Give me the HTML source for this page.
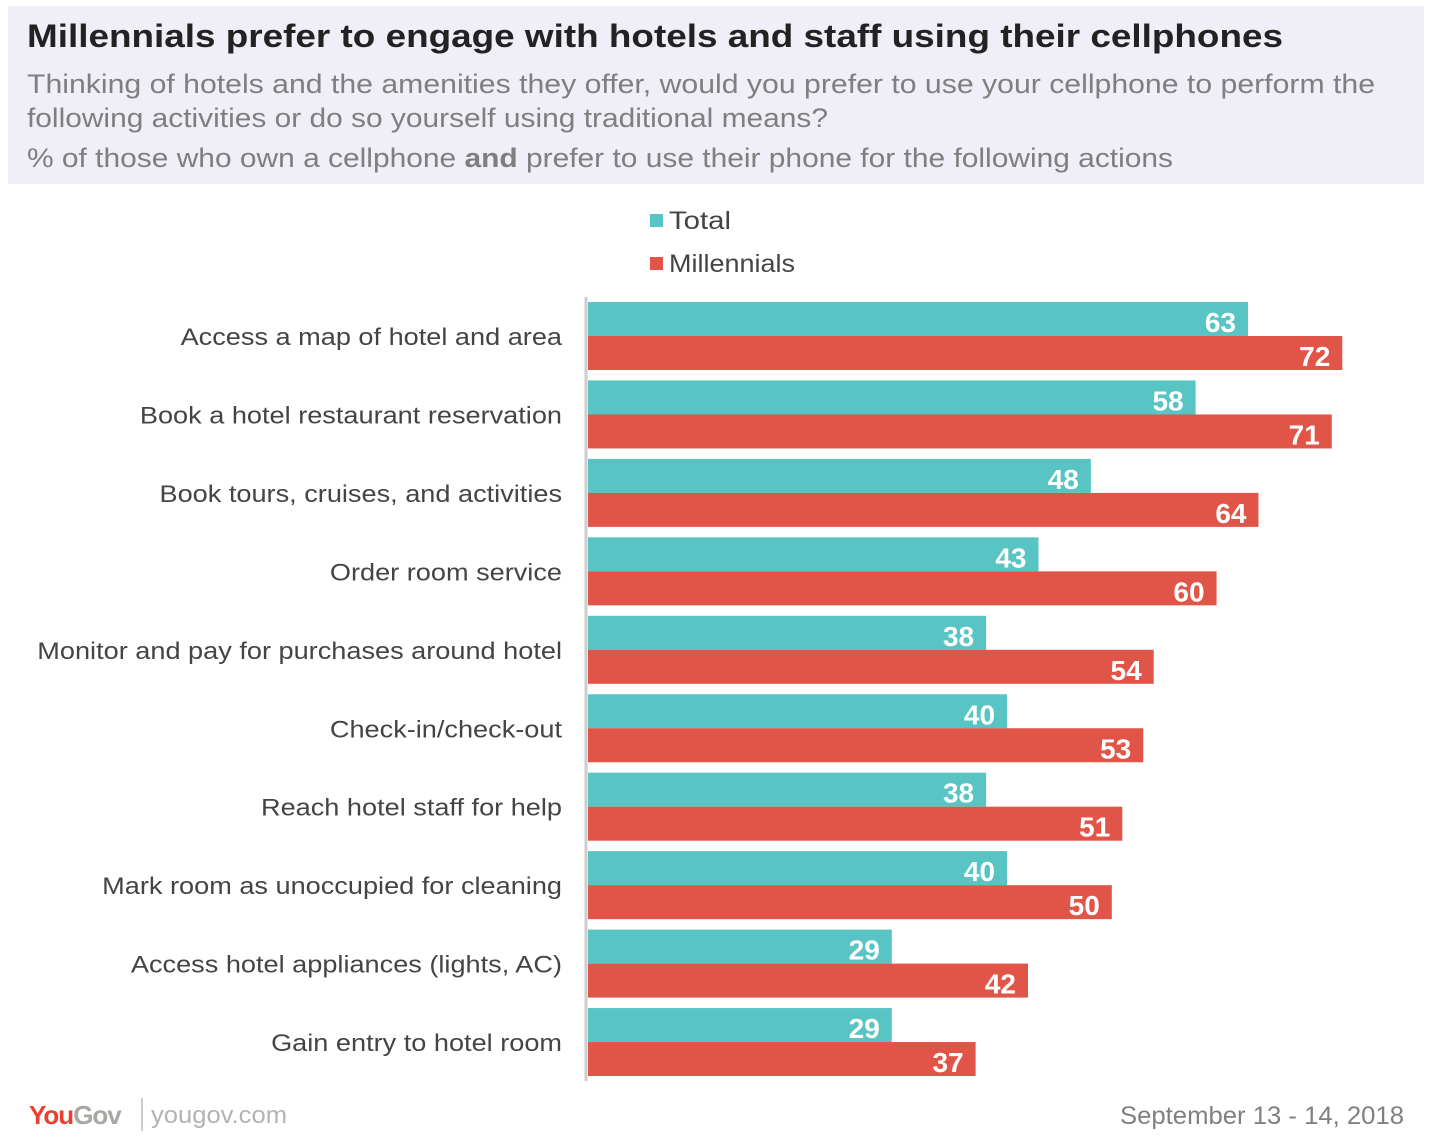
<!DOCTYPE html>
<html><head><meta charset="utf-8">
<style>
html,body{margin:0;padding:0;background:#fff;}
svg{display:block;font-family:"Liberation Sans",sans-serif;}
</style></head>
<body>
<svg id="chart" width="1432" height="1144" viewBox="0 0 1432 1144">
  <rect x="8" y="6" width="1416" height="178" fill="#f0eef6"/>
  <text x="27" y="47" font-size="32" font-weight="bold" fill="#222" textLength="1256" lengthAdjust="spacingAndGlyphs">Millennials prefer to engage with hotels and staff using their cellphones</text>
  <text x="27" y="93" font-size="27" fill="#7f7f7f" textLength="1348" lengthAdjust="spacingAndGlyphs">Thinking of hotels and the amenities they offer, would you prefer to use your cellphone to perform the</text>
  <text x="27" y="127" font-size="27" fill="#7f7f7f" textLength="801" lengthAdjust="spacingAndGlyphs">following activities or do so yourself using traditional means?</text>
  <text x="27" y="167" font-size="27" fill="#7f7f7f" textLength="1146" lengthAdjust="spacingAndGlyphs">% of those who own a cellphone <tspan font-weight="bold">and</tspan> prefer to use their phone for the following actions</text>

  <rect x="650" y="214" width="13" height="13" fill="#58c4c3"/>
  <text x="669" y="229" font-size="25" fill="#444" textLength="62" lengthAdjust="spacingAndGlyphs">Total</text>
  <rect x="650" y="257" width="13" height="13" fill="#e05547"/>
  <text x="669" y="272" font-size="25" fill="#444" textLength="126" lengthAdjust="spacingAndGlyphs">Millennials</text>

  <line x1="586" y1="297" x2="586" y2="1081" stroke="#cccccc" stroke-width="3"/>
  <g id="bars"></g>

  <text x="29" y="1124" font-size="26" font-weight="bold" fill="#e8412f" letter-spacing="-1">You<tspan fill="#a8a8a3">Gov</tspan></text>
  <line x1="142" y1="1098" x2="142" y2="1131" stroke="#bbb" stroke-width="1.5"/>
  <text x="151" y="1123" font-size="24" fill="#b3b3b3" textLength="136" lengthAdjust="spacingAndGlyphs">yougov.com</text>
  <text x="1404" y="1124" font-size="25" fill="#808080" text-anchor="end" textLength="284" lengthAdjust="spacingAndGlyphs">September 13 - 14, 2018</text>
</svg>
<script>
const categories = ["Access a map of hotel and area","Book a hotel restaurant reservation","Book tours, cruises, and activities","Order room service","Monitor and pay for purchases around hotel","Check-in/check-out","Reach hotel staff for help","Mark room as unoccupied for cleaning","Access hotel appliances (lights, AC)","Gain entry to hotel room"];
const totalValues = [63,58,48,43,38,40,38,40,29,29];
const millennialValues = [72,71,64,60,54,53,51,50,42,37];

const NS = "http://www.w3.org/2000/svg";
const x0 = 588, unit = 660/63;
const y0 = 302, step = 78.45, barH = 34;
const xScale = v => x0 + v*unit;
const g = document.getElementById("bars");
function mk(tag, attrs){const e=document.createElementNS(NS,tag);for(const k in attrs)e.setAttribute(k,attrs[k]);return e;}
categories.forEach((c,i)=>{
  const gy = y0 + i*step;
  const lab = mk("text",{x:562,y:gy+barH+9,"font-size":24,fill:"#444","text-anchor":"end"});
  lab.textContent = c;
  
  
  g.appendChild(lab);
  const w = lab.getComputedTextLength();
  lab.setAttribute('textLength', (w*1.13).toFixed(1));
  lab.setAttribute('lengthAdjust', 'spacingAndGlyphs');
  [[totalValues[i],"#58c4c3",0,"total"],[millennialValues[i],"#e05547",barH,"millennials"]].forEach(([v,col,off,s])=>{
    const r = mk("rect",{x:x0,y:gy+off,width:xScale(v)-x0,height:barH,fill:col});
    
    
    g.appendChild(r);
    const t = mk("text",{x:xScale(v)-12,y:gy+off+barH-4,"font-size":28,"font-weight":"bold",fill:"#fff","text-anchor":"end"});
    t.textContent = v;
    
    
    g.appendChild(t);
  });
});
</script>
</body></html>
